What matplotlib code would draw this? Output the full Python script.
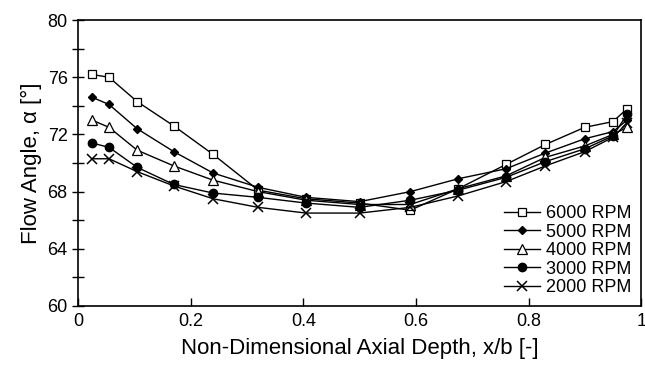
import numpy as np
import matplotlib.pyplot as plt

plt.rcParams['font.family'] = ['Liberation Sans', 'DejaVu Sans']

# positions axiales (x/b) et angles mesurés
x_b = [0.025, 0.055, 0.105, 0.17, 0.24, 0.32, 0.405, 0.5, 0.59, 0.675, 0.76, 0.83, 0.9, 0.95, 0.975]

rpm_6000 = [76.2, 76.0, 74.3, 72.6, 70.6, 68.1, 67.5, 67.2, 66.7, 68.2, 69.9, 71.3, 72.5, 72.9, 73.8]
rpm_5000 = [74.6, 74.1, 72.4, 70.8, 69.3, 68.3, 67.6, 67.3, 68.0, 68.9, 69.6, 70.7, 71.7, 72.2, 73.0]
rpm_4000 = [73.0, 72.5, 70.9, 69.8, 68.8, 68.0, 67.4, 67.1, 67.1, 68.2, 69.1, 70.4, 71.2, 72.0, 72.5]
rpm_3000 = [71.4, 71.1, 69.7, 68.5, 67.9, 67.6, 67.2, 66.9, 67.4, 68.1, 69.0, 70.1, 71.0, 71.9, 73.4]
rpm_2000 = [70.3, 70.3, 69.4, 68.4, 67.5, 66.9, 66.5, 66.5, 66.9, 67.7, 68.7, 69.8, 70.8, 71.8, 72.8]

labels = ['6000 RPM', '5000 RPM', '4000 RPM', '3000 RPM', '2000 RPM']

fig = plt.figure(figsize=(6.45, 3.66), dpi=100)
ax = fig.add_axes([0.121, 0.164, 0.873, 0.781])

ax.plot(x_b, rpm_6000, color='k', lw=1, marker='s', ms=6, mfc='white', mec='k', mew=0.9, label=labels[0])
ax.plot(x_b, rpm_5000, color='k', lw=1, marker='D', ms=4, mfc='k', mec='k', label=labels[1])
ax.plot(x_b, rpm_4000, color='k', lw=1, marker='^', ms=7, mfc='white', mec='k', mew=0.9, label=labels[2])
ax.plot(x_b, rpm_3000, color='k', lw=1, marker='o', ms=6, mfc='k', mec='k', label=labels[3])
ax.plot(x_b, rpm_2000, color='k', lw=1, marker='x', ms=7, mec='k', mew=1.1, label=labels[4])

ax.set_xlim(0, 1)
ax.set_ylim(60, 80)
ax.set_xticks([0, 0.2, 0.4, 0.6, 0.8, 1])
ax.set_xticklabels(['0', '0.2', '0.4', '0.6', '0.8', '1'])
ax.set_yticks(np.arange(60, 81, 4))
ax.set_yticks(np.arange(62, 80, 4), minor=True)
ax.tick_params(axis='x', direction='in', length=6, width=1, labelsize=13, pad=5)
ax.tick_params(axis='y', which='both', direction='inout', length=8, width=1, labelsize=13)

for s in ax.spines.values():
    s.set_linewidth(1.2)

ax.set_xlabel('Non-Dimensional Axial Depth, x/b [-]', fontsize=16, labelpad=6)
ax.set_ylabel('Flow Angle, α [°]', fontsize=16, labelpad=4)

ax.legend(loc='lower right', frameon=False, fontsize=13, handlelength=2.0,
          handletextpad=0.3, labelspacing=0.08, borderaxespad=0.15)

fig.savefig('out.png', dpi=100)
